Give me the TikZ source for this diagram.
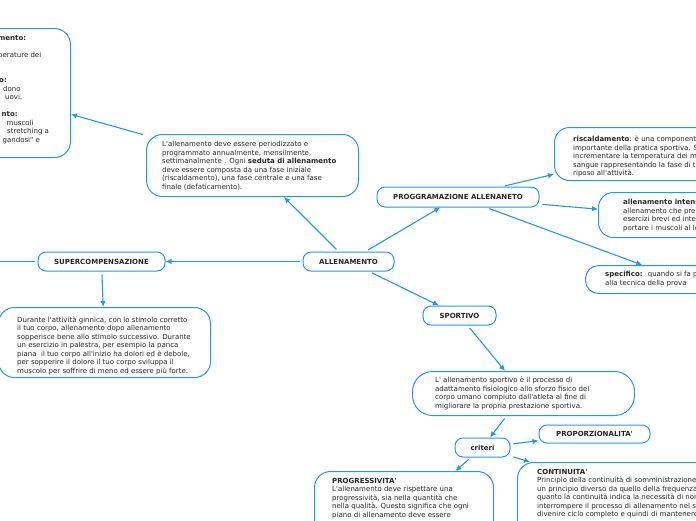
\documentclass[tikz,border=0pt]{standalone}
\usepackage{fontspec}
\newfontfamily\vf{DejaVu Sans}
\usetikzlibrary{arrows.meta}
\definecolor{mblue}{RGB}{40,152,224}
\definecolor{mtext}{RGB}{38,38,38}
\begin{document}
\begin{tikzpicture}[x=1pt,y=-1pt,
  font=\vf\fontsize{7}{8.5}\selectfont, text=mtext,
  title/.style={draw=mblue, line width=1pt, fill=white, rounded corners=8pt,
    font=\vf\bfseries\fontsize{7}{8.5}\selectfont, inner sep=0pt},
  box/.style={draw=mblue, line width=1pt, fill=white, inner sep=0pt, anchor=north west},
  txt/.style={align=left, inner sep=0pt},
  frag/.style={anchor=base west, inner sep=0pt},
  conn/.style={draw=mblue, line width=1.1pt, -{Latex[length=6pt,width=5.5pt]}, shorten <=3pt}]
\useasboundingbox (0,0) rectangle (696,520);
\clip (0,0) rectangle (696,520);

% title nodes
\node[title, minimum width=91pt, minimum height=19pt] (allen) at (348.5,261.5) {ALLENAMENTO};
\node[title, minimum width=127pt, minimum height=19pt] (superc) at (101.5,261.5) {SUPERCOMPENSAZIONE};
\node[title, minimum width=162pt, minimum height=20pt] (progr) at (458,197) {PROGGRAMAZIONE ALLENANETO};
\node[title, minimum width=73pt, minimum height=19pt] (sport) at (459.5,315.5) {SPORTIVO};
\node[title, minimum width=55pt, minimum height=19pt] (crit) at (482.5,447.5) {criteri};
\node[title, minimum width=111pt, minimum height=18pt] (prop) at (594.5,434) {PROPORZIONALITA'};

% description boxes
\node[box, rounded corners=16pt, minimum width=150pt, minimum height=129pt] (tlbox) at (-80,28) {};
\node[frag] (tl1) at (-2,40) {\textbf{mento:}};
\node[frag] (tl2) at (-2,57) {perature dei};
\node[frag] (tl3) at (-1,82.5) {\textbf{o:}};
\node[frag] (tl4) at (3,91) {dono};
\node[frag] (tl5) at (5,99.5) {uovi.};
\node[frag] (tl6) at (1.5,116.5) {\textbf{nto:}};
\node[frag] (tl7) at (6.5,125) {muscoli};
\node[frag] (tl8) at (7,133.5) {stretching a};
\node[frag] (tl9) at (2.5,142) {gandosi" e};

\node[box, rounded corners=16pt, minimum width=212pt, minimum height=62pt] (topbox) at (146,134) {};
\node[txt, anchor=west] (toptext) at (162,166) {L'allenamento deve essere periodizzato e\\
  programmato annualmente, mensilmente,\\
  settimanalmente . Ogni \textbf{seduta di allenamento}\\
  deve essere composta da una fase iniziale\\
  (riscaldamento), una fase centrale e una fase\\
  finale (defaticamento).};

\node[box, rounded corners=16pt, minimum width=212pt, minimum height=70pt] (supdesc) at (-2,307) {};
\node[txt, anchor=west] (suptext) at (17,345.5) {Durante l'attività ginnica, con lo stimolo corretto\\
  il tuo corpo, allenamento dopo allenamento\\
  sopperisce bene allo stimolo successivo. Durante\\
  un esercizio in palestra, per esempio la panca\\
  piana~ il tuo corpo all'inizio ha dolori ed è debole,\\
  per sopperire il dolore il tuo corpo sviluppa il\\
  muscolo per soffrire di meno ed essere più forte.};

\node[box, rounded corners=20pt, minimum width=222pt, minimum height=44pt] (sportbox) at (412,371) {};
\node[txt, anchor=west] (sporttext) at (435,393.5) {L' allenamento sportivo è il processo di\\
  adattamento fisiologico allo sforzo fisico del\\
  corpo umano compiuto dall'atleta al fine di\\
  migliorare la propria prestazione sportiva.};

\node[box, rounded corners=15pt, minimum width=170pt, minimum height=53pt] (riscbox) at (554,127) {};
\node[txt, anchor=west] (risctext) at (573,156.5) {\textbf{riscaldamento}: è una componente\\
  importante della pratica sportiva. Serve a\\
  incrementare la temperatura dei muscoli e del\\
  sangue rappresentando la fase di transizione\\
  riposo all'attività.};

\node[box, rounded corners=15pt, minimum width=132pt, minimum height=45pt] (intbox) at (598,192) {};
\node[txt, anchor=west] (inttext) at (623,215.5) {\textbf{allenamento intenso:}\\
  allenamento che prevede\\
  esercizi brevi ed intensi per\\
  portare i muscoli al loro limite};

\node[box, rounded corners=13pt, minimum width=192pt, minimum height=28pt] (specbox) at (585,265) {};
\node[txt, anchor=west] (spectext) at (605,279) {\textbf{specifico:}~ quando si fa particolare\\
  alla tecnica della prova};

\node[box, rounded corners=16pt, minimum width=179pt, minimum height=88pt] (progbox) at (314,471) {};
\node[txt, anchor=north west] (progtext) at (332,478) {\textbf{PROGRESSIVITA'}\\
  L'allenamento deve rispettare una\\
  progressività, sia nella quantità che\\
  nella qualità. Questo significa che ogni\\
  piano di allenamento deve essere};

\node[box, rounded corners=16pt, minimum width=350pt, minimum height=98pt] (contbox) at (517,462) {};
\node[txt, anchor=north west] (conttext) at (537,469) {\textbf{CONTINUITA'}\\
  Principio della continuità di somministrazione\\
  un principio diverso da quello della frequenza\\
  quanto la continuità indica la necessità di non\\
  interrompere il processo di allenamento nel suo\\
  divenire ciclo completo e quindi di mantenere};

% connectors
\coordinate (leftend) at (-40,261.5);
\draw[conn] (allen) -- (superc);
\draw[conn] (allen) -- (topbox);
\draw[conn] (allen) -- (progr);
\draw[conn] (allen) -- (sport);
\draw[conn] (superc) -- (supdesc);
\draw[conn] (superc) -- (leftend);
\draw[conn] (topbox) -- (tlbox);
\draw[conn] (progr) -- (riscbox);
\draw[conn] (progr) -- (intbox);
\draw[conn] (progr) -- (specbox);
\draw[conn] (sport) -- (sportbox);
\draw[conn] (sportbox) -- (crit);
\draw[conn] (crit) -- (prop);
\draw[conn] (crit) -- (progbox);
\draw[conn] (crit) -- (contbox);
\end{tikzpicture}
\end{document}
